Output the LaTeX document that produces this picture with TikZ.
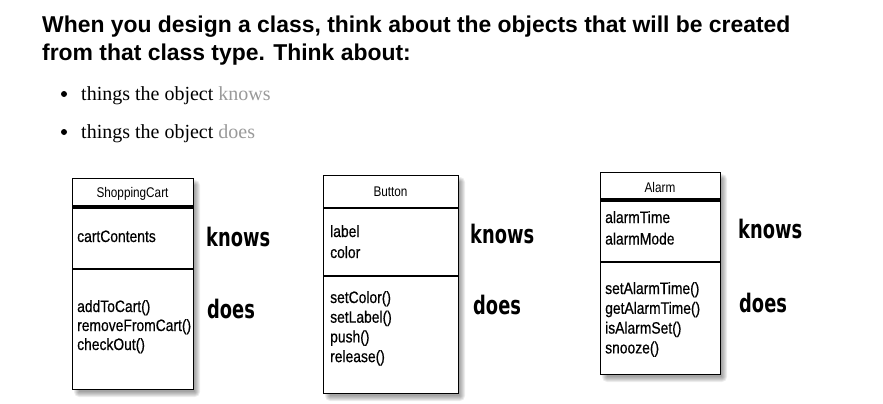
\documentclass[tikz,border=0pt]{standalone}
\usepackage{fontspec}
\setmainfont{Liberation Serif}
\newfontfamily\headfont{Liberation Sans}
\newfontfamily\umlfont[FakeStretch=0.84,FakeBold=0.5]{Liberation Sans}
\newfontfamily\umltitlefont[FakeStretch=0.84]{Liberation Sans}
\newfontfamily\handfont[FakeStretch=0.7]{DejaVu Sans}
\definecolor{lightword}{HTML}{9A9A9A}
\begin{document}
\begin{tikzpicture}[x=1pt,y=-1pt,
  head/.style={font=\headfont\bfseries\fontsize{22.9}{26}\selectfont, anchor=base west, inner sep=0},
  bullettext/.style={font=\fontsize{20}{24}\selectfont, anchor=base west, inner sep=0},
  dot/.style={circle, fill=black, inner sep=0, minimum size=6},
  classbox/.style={draw=black, line width=1.3, fill=white, anchor=north west, inner sep=0},
  title/.style={font=\umltitlefont\fontsize{14}{15}\selectfont, inner sep=0},
  member/.style={font=\umlfont\fontsize{16.5}{19}\selectfont, anchor=base west, inner sep=0},
  hand/.style={font=\handfont\bfseries\fontsize{25.5}{27}\selectfont, anchor=west, inner sep=0},
  thickrule/.style={line width=3.2},
  midrule/.style={line width=2},
  thinrule/.style={line width=1.3}
]
\useasboundingbox (0,0) rectangle (883,404);

% heading
\node[head] (h1) at (42,33) {When you design a class, think about the objects that will be created};
\node[head] (h2) at (42,60) {from that class type. Think about:};

% bullets
\node[dot] (d1) at (64,94) {};
\node[bullettext] (b1) at (81,100) {things the object \textcolor{lightword}{knows}};
\node[dot] (d2) at (64,132) {};
\node[bullettext] (b2) at (81,138) {things the object \textcolor{lightword}{does}};

% shadows
\foreach \bx/\by/\bw/\bh in {72/178/121/211, 323/175/135/218, 600/172/120/202}{
  \foreach \r in {0,1,2,3,4,5}{
    \fill[black, opacity=0.07, rounded corners=\r]
      (\bx+5-\r+2, \by+5-\r+2) rectangle (\bx+\bw+2+\r, \by+\bh+3+\r);
  }
}

% ShoppingCart
\node[classbox, minimum width=121, minimum height=211] (cart) at (72,178) {};
\node[title] (cartT) at (132.5,194) {ShoppingCart};
\draw[thickrule] (cart.west |- 0,207) -- (cart.east |- 0,207);
\draw[thinrule] (cart.west |- 0,269) -- (cart.east |- 0,269);
\node[member] (cartA1) at (77,242) {cartContents};
\foreach \t [count=\i] in {addToCart(),removeFromCart(),checkOut()}
  \node[member] (cartM\i) at (77,312+19*\i-19) {\t};
\node[hand] (cartK) at (206,237) {knows};
\node[hand] (cartD) at (207,309) {does};

% Button
\node[classbox, minimum width=135, minimum height=218] (btn) at (323,175) {};
\node[title] (btnT) at (390.5,192) {Button};
\draw[midrule] (btn.west |- 0,208) -- (btn.east |- 0,208);
\draw[thinrule] (btn.west |- 0,276) -- (btn.east |- 0,276);
\node[member] (btnA1) at (330,237) {label};
\node[member] (btnA2) at (330,258) {color};
\foreach \t [count=\i] in {setColor(),setLabel(),push(),release()}
  \node[member] (btnM\i) at (330,303+19.7*\i-19.7) {\t};
\node[hand] (btnK) at (470,234) {knows};
\node[hand] (btnD) at (473,305) {does};

% Alarm
\node[classbox, minimum width=120, minimum height=202] (alarm) at (600,172) {};
\node[title] (alarmT) at (660,187) {Alarm};
\draw[thickrule] (alarm.west |- 0,200) -- (alarm.east |- 0,200);
\draw[thinrule] (alarm.west |- 0,262) -- (alarm.east |- 0,262);
\node[member] (alarmA1) at (605,223) {alarmTime};
\node[member] (alarmA2) at (605,244.5) {alarmMode};
\foreach \t [count=\i] in {setAlarmTime(),getAlarmTime(),isAlarmSet(),snooze()}
  \node[member] (alarmM\i) at (605,294+19.8*\i-19.8) {\t};
\node[hand] (alarmK) at (738,229) {knows};
\node[hand] (alarmD) at (739,303) {does};
\end{tikzpicture}
\end{document}
